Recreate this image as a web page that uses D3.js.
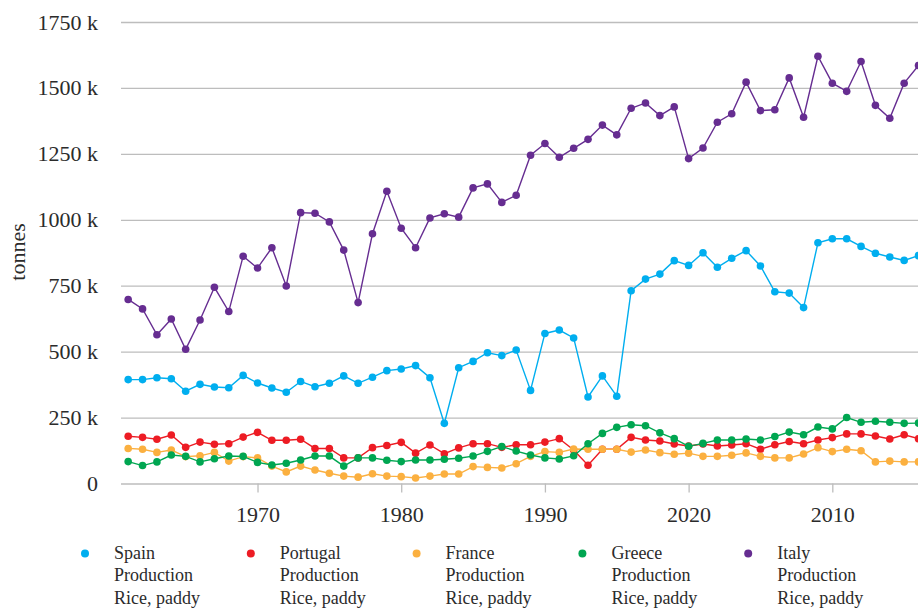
<!DOCTYPE html>
<html>
<head>
<meta charset="utf-8">
<script src="https://cdn.jsdelivr.net/npm/d3@7"></script>
<style>
  body { margin: 0; background: #fff; }
  svg { display: block; }
  svg text { font-family: "Liberation Serif", "DejaVu Serif", serif; }
</style>
</head>
<body>
<div id="chart"></div>
<script>
// Rice, paddy production (thousand tonnes), 1961-2016
const years = d3.range(1961, 2017);

const spain = [394, 394, 401, 397, 350, 376, 366, 363, 410, 381, 362, 346, 387, 367, 380, 408, 380, 403, 428, 434,
  447, 401, 228, 439, 463, 496, 485, 506, 353, 569, 582, 552, 328, 408, 331, 731, 775, 794, 845, 827,
  875, 820, 854, 883, 825, 727, 722, 667, 913, 928, 928, 899, 873, 859, 846, 864];
const portugal = [179, 175, 168, 184, 137, 157, 149, 151, 176, 194, 164, 164, 168, 133, 133, 97, 97, 136, 144, 156,
  115, 146, 113, 135, 151, 151, 137, 147, 147, 157, 170, 127, 69, 130, 130, 175, 165, 161, 150, 142,
  150, 142, 146, 151, 130, 147, 159, 151, 165, 174, 188, 188, 180, 169, 185, 170];
const france = [133, 130, 118, 127, 102, 105, 118, 85, 102, 97, 66, 44, 66, 51, 39, 28, 24, 37, 28, 26,
  21, 28, 36, 36, 64, 61, 59, 75, 103, 121, 118, 131, 130, 130, 130, 119, 127, 117, 111, 115,
  103, 103, 107, 116, 103, 97, 97, 112, 136, 121, 130, 124, 82, 85, 82, 82];
const greece = [83, 68, 82, 108, 103, 82, 94, 104, 103, 80, 70, 77, 89, 104, 104, 66, 97, 97, 88, 83,
  89, 89, 92, 96, 104, 122, 140, 123, 108, 97, 93, 105, 151, 190, 213, 223, 219, 192, 170, 141,
  152, 165, 165, 169, 165, 178, 195, 185, 214, 207, 250, 232, 236, 232, 228, 229];
const italy = [698, 662, 564, 624, 509, 620, 744, 652, 862, 817, 894, 749, 1027, 1025, 992, 885, 686, 947, 1108, 968,
  894, 1007, 1023, 1010, 1121, 1136, 1066, 1093, 1245, 1289, 1237, 1271, 1305, 1359, 1322, 1423, 1443, 1395, 1428, 1232,
  1272, 1370, 1402, 1522, 1414, 1417, 1538, 1389, 1620, 1518, 1487, 1600, 1434, 1385, 1518, 1585];

const countries = ["Spain", "Portugal", "France", "Greece", "Italy"];
const colors = ["#00aeef", "#ed1c24", "#fbb040", "#00a651", "#662d91"];
const seriesValues = [spain, portugal, france, greece, italy];

const xTickValues = [1970, 1980, 1990, 2000, 2010];
const xTickLabels = ["1970", "1980", "1990", "2020", "2010"];
const yTickValues = [0, 250, 500, 750, 1000, 1250, 1500, 1750];

const width = 918;
const height = 608;

const svg = d3.select("#chart")
    .append("svg")
    .attr("width", width)
    .attr("height", height);

const x = d3.scaleLinear()
    .domain([1960.5, 2016.5])
    .range([121, 121 + 56 * 14.37]);

const y = d3.scaleLinear()
    .domain([0, 1750])
    .range([483.5, 22]);

// y axis with gridlines
const yAxis = svg.append("g")
    .attr("transform", "translate(121,0)")
    .call(d3.axisLeft(y)
        .tickValues(yTickValues)
        .tickSize(-(width - 121))
        .tickPadding(23)
        .tickFormat(d => d === 0 ? "0" : d + " k"));
yAxis.select(".domain").remove();
yAxis.selectAll("line").attr("stroke", "#bdbdbd").attr("stroke-width", 1.3);
yAxis.selectAll("text")
    .attr("fill", "#2b2b2b")
    .style("font-size", "22px");

// x axis
const xAxis = svg.append("g")
    .attr("transform", "translate(0,483.5)")
    .call(d3.axisBottom(x)
        .tickValues(xTickValues)
        .tickSize(9)
        .tickPadding(14)
        .tickFormat((d, i) => xTickLabels[i]));
xAxis.select(".domain").remove();
xAxis.selectAll("line").attr("stroke", "#bdbdbd").attr("stroke-width", 1.3);
xAxis.selectAll("text")
    .attr("fill", "#2b2b2b")
    .style("font-size", "22px");

// y axis title
svg.append("text")
    .attr("transform", "translate(25,252) rotate(-90)")
    .attr("text-anchor", "middle")
    .attr("fill", "#2b2b2b")
    .style("font-size", "22px")
    .text("tonnes");

// lines and points
const line = d3.line()
    .x((d, i) => x(years[i]))
    .y(d => y(d));

seriesValues.forEach((vals, k) => {
    const g = svg.append("g");
    g.append("path")
        .datum(vals)
        .attr("d", line)
        .attr("fill", "none")
        .attr("stroke", colors[k])
        .attr("stroke-width", 1.4);
    g.selectAll("circle")
        .data(vals)
        .join("circle")
        .attr("cx", (d, i) => x(years[i]))
        .attr("cy", d => y(d))
        .attr("r", 3.8)
        .attr("fill", colors[k]);
});

// legend
const legendItem = svg.append("g")
    .selectAll("g")
    .data(countries)
    .join("g")
    .attr("transform", (d, i) => `translate(${85 + i * 165.8},0)`);

legendItem.append("circle")
    .attr("cx", 0)
    .attr("cy", 553.5)
    .attr("r", 4)
    .attr("fill", (d, i) => colors[i]);

legendItem.each(function(d) {
    const t = d3.select(this).append("text")
        .attr("x", 29)
        .attr("fill", "#2b2b2b")
        .style("font-size", "18px");
    [d, "Production", "Rice, paddy"].forEach((s, j) => {
        t.append("tspan")
            .attr("x", 29)
            .attr("y", 558.5 + j * 22.5)
            .text(s);
    });
});
</script>
</body>
</html>
